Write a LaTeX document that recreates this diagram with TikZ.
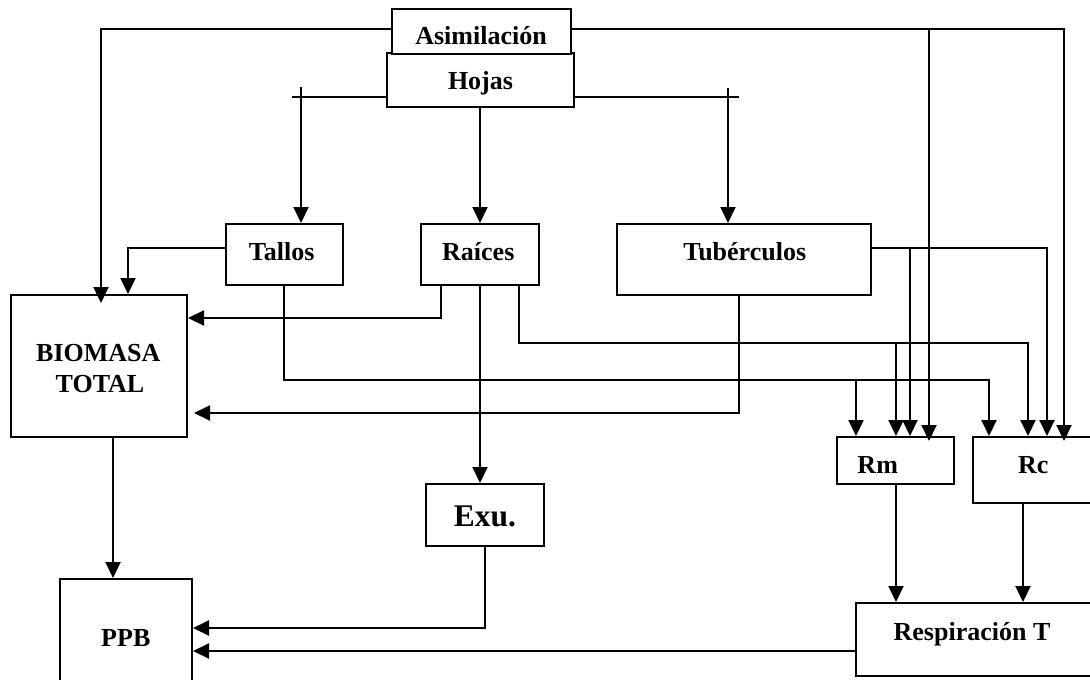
\documentclass[tikz,border=0pt]{standalone}
\usepackage{fontspec}
\setmainfont{Liberation Serif}
\usetikzlibrary{arrows.meta}
\begin{document}
\begin{tikzpicture}[x=1pt,y=-1pt,
  box/.style={draw,line width=2pt,inner sep=0pt,rectangle},
  lbl/.style={inner sep=0pt,anchor=base,font=\fontsize{26}{31}\selectfont\bfseries},
  flow/.style={line width=2pt},
  arr/.style={flow,-{Triangle[length=16pt,width=15pt]}}]
\useasboundingbox (0,0) rectangle (1090,680);
\clip (0,0) rectangle (1090,680);

% compartments
\node[box,minimum width=187pt,minimum height=54pt]  (hojas)   at (480.5,80) {};
\node[box,fill=white,minimum width=179pt,minimum height=45pt] (asim) at (481.5,31.5) {};
\node[box,minimum width=117pt,minimum height=61pt]  (tallos)  at (284.5,254.5) {};
\node[box,minimum width=118pt,minimum height=61pt]  (raices)  at (480,254.5) {};
\node[box,minimum width=254pt,minimum height=71pt]  (tuber)   at (744,259.5) {};
\node[box,minimum width=176pt,minimum height=142pt] (biomasa) at (99,366) {};
\node[box,minimum width=118pt,minimum height=62pt]  (exu)     at (485,515) {};
\node[box,minimum width=132pt,minimum height=111pt] (ppb)     at (126,634.5) {};
\node[box,minimum width=117pt,minimum height=47pt]  (rm)      at (895.5,460.5) {};
\node[box,minimum width=123pt,minimum height=66pt]  (rc)      at (1034.5,470) {};
\node[box,minimum width=240pt,minimum height=73pt]  (resp)    at (976,639.5) {};

% labels
\node[lbl] (asimT)   at (481,44.3)    {Asimilación};
\node[lbl] (hojasT)  at (480.5,89.3)  {Hojas};
\node[lbl] (tallosT) at (281.7,260.7) {Tallos};
\node[lbl] (raicesT) at (478.3,260.7) {Raíces};
\node[lbl] (tuberT)  at (744.7,260.7) {Tubérculos};
\node[lbl] (bioT1)   at (98.3,361.7)  {BIOMASA};
\node[lbl] (bioT2)   at (100,392.3)   {TOTAL};
\node[lbl,font=\fontsize{31.5}{36}\selectfont\bfseries] (exuT) at (485,526.7) {Exu.};
\node[lbl] (ppbT)    at (125.8,646.7) {PPB};
\node[lbl] (rmT)     at (877.7,473.3) {Rm};
\node[lbl] (rcT)     at (1033.3,473.3) {Rc};
\node[lbl] (respT)   at (972,640)     {Respiración T};

% junction points
\coordinate (aJ)  at (929,29);
\coordinate (hL)  at (292,97);
\coordinate (hLt) at (301,87);
\coordinate (hR)  at (739,97);
\coordinate (hRt) at (728,88);
\coordinate (tJ1) at (856,380);
\coordinate (tJ2) at (989,380);
\coordinate (rJ1) at (896,343);
\coordinate (rJ2) at (1028,343);
\coordinate (uJ1) at (910,248);
\coordinate (uJ2) at (1047,248);

% assimilation
\draw[arr,shorten >=-9pt] (asim.west |- aJ) -| (biomasa.north -| 101,0);
\draw[arr,shorten >=-5pt] (asim.east |- aJ) -| (rc.north -| 1064,0);
\draw[arr,shorten >=-5pt] (aJ) -- (rm.north -| aJ);

% leaves
\draw[flow] (hojas.west |- hL) -- (hL);
\draw[arr] (hLt) -- (tallos.north -| hLt);
\draw[flow] (hojas.east |- hR) -- (hR);
\draw[arr] (hRt) -- (tuber.north -| hRt);
\draw[arr] (hojas.south -| 480,0) -- (raices.north -| 480,0);

% stems
\draw[arr] (tallos.west |- 0,248) -| (biomasa.north -| 128,0);
\draw[arr] (tallos.south -| 284,0) |- (tJ2) -- (rc.north -| tJ2);
\draw[arr] (tJ1) -- (rm.north -| tJ1);

% roots
\draw[arr] (raices.south -| 441,0) |- (biomasa.east |- 0,318);
\draw[arr] (raices.south -| 480,0) -- (exu.north -| 480,0);
\draw[arr] (raices.south -| 519,0) |- (rJ2) -- (rc.north -| rJ2);
\draw[arr] (rJ1) -- (rm.north -| rJ1);

% tubers
\draw[arr] (tuber.east |- uJ2) -- (uJ2) -- (rc.north -| uJ2);
\draw[arr] (uJ1) -- (rm.north -| uJ1);
\draw[arr,shorten >=6pt] (tuber.south -| 739,0) |- (biomasa.east |- 0,413);

% outputs
\draw[arr] (biomasa.south -| 113,0) -- (ppb.north -| 113,0);
\draw[arr] (exu.south -| 485,0) |- (ppb.east |- 0,628);
\draw[arr] (resp.west |- 0,651) -- (ppb.east |- 0,651);
\draw[arr] (rm.south -| 896,0) -- (resp.north -| 896,0);
\draw[arr] (rc.south -| 1023,0) -- (resp.north -| 1023,0);
\end{tikzpicture}
\end{document}
